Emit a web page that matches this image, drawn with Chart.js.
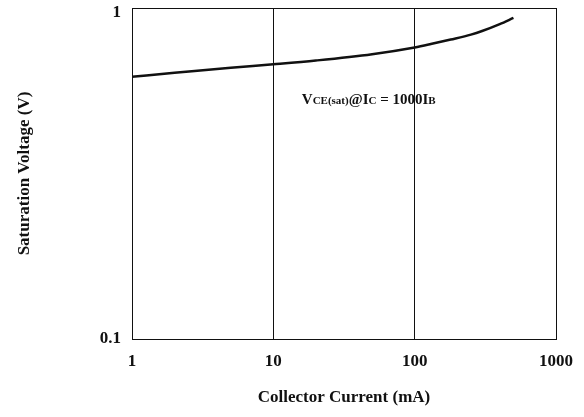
<!DOCTYPE html>
<html>
<head>
<meta charset="utf-8">
<script src="https://cdn.jsdelivr.net/npm/chart.js@4/dist/chart.umd.min.js"></script>
<style>
  html, body { margin: 0; padding: 0; background: #fff; }
  #wrap { width: 584px; height: 417px; }
</style>
</head>
<body>
<div id="wrap"><canvas id="vce"></canvas></div>
<script>
// collector current (mA) and saturation voltage (V)
const currentMA = [1, 2, 5, 10, 20, 50, 100, 130, 180, 250, 300, 400, 500];
const satVoltage = [0.62, 0.637, 0.66, 0.676, 0.694, 0.725, 0.76, 0.778, 0.803, 0.831, 0.852, 0.894, 0.933];
const xTicks = [1, 10, 100, 1000];
const yTicks = [0.1, 1];

const serif = "'Liberation Serif', 'Times New Roman', serif";

// V CE(sat) @ I C = 1000 I B, with subscripts
const noteParts = [
  { t: "V", s: 15 },
  { t: "CE(sat)", s: 11 },
  { t: "@I", s: 15 },
  { t: "C", s: 11 },
  { t: " = 1000I", s: 15 },
  { t: "B", s: 11 },
];

const notePlugin = {
  id: "note",
  afterDatasetsDraw(chart) {
    const { ctx, scales } = chart;
    let x = scales.x.getPixelForValue(15.9);
    const y = scales.y.getPixelForValue(0.513);
    ctx.save();
    ctx.fillStyle = "#111";
    ctx.textBaseline = "alphabetic";
    noteParts.forEach((p) => {
      ctx.font = "bold " + p.s + "px " + serif;
      ctx.fillText(p.t, x, y);
      x += ctx.measureText(p.t).width;
    });
    ctx.restore();
  },
};

new Chart(document.getElementById("vce"), {
  type: "line",
  data: {
    labels: currentMA,
    datasets: [
      {
        data: currentMA.map((c, i) => ({ x: c, y: satVoltage[i] })),
        borderColor: "#111",
        borderWidth: 2.5,
        pointRadius: 0,
        cubicInterpolationMode: "monotone",
        fill: false,
      },
    ],
  },
  options: {
    responsive: true,
    maintainAspectRatio: false,
    animation: false,
    layout: { padding: { top: 8, right: 28, left: 0, bottom: 0 } },
    plugins: {
      legend: { display: false },
      tooltip: { enabled: false },
    },
    scales: {
      x: {
        type: "logarithmic",
        min: 1,
        max: 1000,
        afterBuildTicks: (axis) => {
          axis.ticks = xTicks.map((v) => ({ value: v }));
        },
        afterFit: (axis) => {
          axis.height = 78;
          axis.paddingLeft = 0;
          axis.paddingRight = 0;
        },
        grid: { color: "#111", lineWidth: 1, drawTicks: false },
        border: { color: "#111", width: 1 },
        ticks: {
          color: "#111",
          padding: 12,
          maxRotation: 0,
          font: { family: serif, size: 17, weight: "bold" },
          callback: (v) => String(v),
        },
        title: {
          display: true,
          text: "Collector Current (mA)",
          color: "#111",
          padding: { top: 0, bottom: 9 },
          font: { family: serif, size: 17, weight: "bold" },
        },
      },
      y: {
        type: "logarithmic",
        min: 0.1,
        max: 1,
        afterBuildTicks: (axis) => {
          axis.ticks = yTicks.map((v) => ({ value: v }));
        },
        afterFit: (axis) => {
          axis.width = 132;
          axis.paddingTop = 0;
          axis.paddingBottom = 0;
        },
        grid: { color: "#111", lineWidth: 1, drawTicks: false },
        border: { color: "#111", width: 1 },
        ticks: {
          color: "#111",
          padding: 11,
          font: { family: serif, size: 17, weight: "bold", lineHeight: 0.6 },
          // top label sits a little below the frame, as in the original
          callback: (v) => (v === 1 ? ["", "1"] : String(v)),
        },
        title: {
          display: true,
          text: "Saturation Voltage (V)",
          color: "#111",
          padding: { top: 14, bottom: 0 },
          font: { family: serif, size: 17, weight: "bold" },
        },
      },
    },
  },
  plugins: [notePlugin],
});
</script>
</body>
</html>
